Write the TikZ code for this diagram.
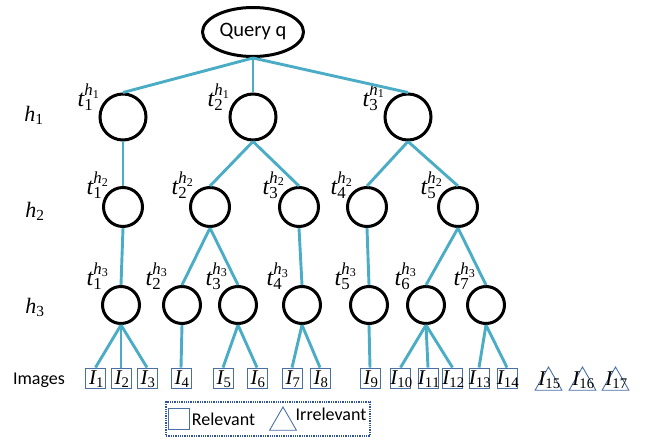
\documentclass[tikz,border=0pt]{standalone}
\usepackage{mathspec}
\setmainfont{Carlito}
\setmathsfont(Digits,Latin)[Scale=1]{Liberation Serif}
\usetikzlibrary{shapes.geometric}
\definecolor{linkblue}{HTML}{4BACC6}
\definecolor{boxblue}{HTML}{4A6FA5}
\definecolor{framblue}{HTML}{2F5597}
\begin{document}
\begin{tikzpicture}[x=1pt, y=-1pt,
  query/.style={ellipse, draw, line width=3pt, minimum width=101pt, minimum height=49pt, inner sep=0pt,
    font=\fontsize{20.5}{24}\selectfont},
  topic/.style={circle, draw, line width=3pt, inner sep=0pt, fill=white},
  lvla/.style={topic, minimum size=46pt},
  lvlb/.style={topic, minimum size=39pt},
  lvlc/.style={topic, minimum size=37pt},
  link/.style={draw=linkblue, line width=2.9pt},
  tlabel/.style={anchor=south east, inner sep=0pt, font=\fontsize{24}{26}\selectfont},
  hlabel/.style={inner sep=0pt, font=\fontsize{22}{24}\selectfont},
  imgtext/.style={font=\fontsize{21}{22}\selectfont},
  imgbox/.style={rectangle, draw=boxblue, line width=0.9pt, minimum width=20pt, minimum height=20pt, inner sep=0pt,
    label={[imgtext, inner sep=0pt, xshift=1pt, yshift=-1pt]center:#1}},
  imgtri/.style={regular polygon, regular polygon sides=3, draw=boxblue, line width=0.9pt, minimum size=31pt, inner sep=0pt,
    label={[imgtext, inner sep=0pt, xshift=1pt, yshift=2pt]center:#1}},
  legendframe/.style={rectangle, draw=framblue, line width=1.3pt, densely dotted, minimum width=204pt, minimum height=34pt, inner sep=0pt},
  legtext/.style={inner sep=0pt, font=\fontsize{18}{20}\selectfont}
]
\useasboundingbox (0,0) rectangle (645,441);

% query
\node[query] (q) at (253,32) {Query q};

% level h1
\node[lvla] (a1) at (123,117) {};
\node[lvla] (a2) at (253,117) {};
\node[lvla] (a3) at (408,117) {};
% level h2
\node[lvlb] (b1) at (123,207) {};
\node[lvlb] (b2) at (210,207) {};
\node[lvlb] (b3) at (299,207) {};
\node[lvlb] (b4) at (367,207) {};
\node[lvlb] (b5) at (458,207) {};
% level h3
\node[lvlc] (c1) at (121,305) {};
\node[lvlc] (c2) at (182,305) {};
\node[lvlc] (c3) at (238,305) {};
\node[lvlc] (c4) at (302,305) {};
\node[lvlc] (c5) at (369,305) {};
\node[lvlc] (c6) at (426,305) {};
\node[lvlc] (c7) at (486,305) {};

% topic labels
\node[tlabel] (la1) at ([shift={(-23,-6)}]a1.center) {$t_1^{h_1}$};
\node[tlabel] (la2) at ([shift={(-23,-6)}]a2.center) {$t_2^{h_1}$};
\node[tlabel] (la3) at ([shift={(-23,-6)}]a3.center) {$t_3^{h_1}$};
\node[tlabel] (lb1) at ([shift={(-14,-8)}]b1.center) {$t_1^{h_2}$};
\node[tlabel] (lb2) at ([shift={(-16,-8)}]b2.center) {$t_2^{h_2}$};
\node[tlabel] (lb3) at ([shift={(-14,-8)}]b3.center) {$t_3^{h_2}$};
\node[tlabel] (lb4) at ([shift={(-14,-8)}]b4.center) {$t_4^{h_2}$};
\node[tlabel] (lb5) at ([shift={(-15,-8)}]b5.center) {$t_5^{h_2}$};
\node[tlabel] (lc1) at ([shift={(-12,-15)}]c1.center) {$t_1^{h_3}$};
\node[tlabel] (lc2) at ([shift={(-14,-15)}]c2.center) {$t_2^{h_3}$};
\node[tlabel] (lc3) at ([shift={(-10,-15)}]c3.center) {$t_3^{h_3}$};
\node[tlabel] (lc4) at ([shift={(-13,-15)}]c4.center) {$t_4^{h_3}$};
\node[tlabel] (lc5) at ([shift={(-12,-15)}]c5.center) {$t_5^{h_3}$};
\node[tlabel] (lc6) at ([shift={(-9,-15)}]c6.center) {$t_6^{h_3}$};
\node[tlabel] (lc7) at ([shift={(-10,-15)}]c7.center) {$t_7^{h_3}$};

% level names
\node[hlabel] (h1) at (34,115) {$h_1$};
\node[hlabel] (h2) at (35,211) {$h_2$};
\node[hlabel] (h3) at (35,307) {$h_3$};
\node[legtext] (imgs) at (39,380) {Images};

% images: relevant
\node[imgbox=$I_{1}$]  (i1)  at (95.5,378) {};
\node[imgbox=$I_{2}$]  (i2)  at (121,378) {};
\node[imgbox=$I_{3}$]  (i3)  at (147,378) {};
\node[imgbox=$I_{4}$]  (i4)  at (181,378) {};
\node[imgbox=$I_{5}$]  (i5)  at (223,378) {};
\node[imgbox=$I_{6}$]  (i6)  at (257,378) {};
\node[imgbox=$I_{7}$]  (i7)  at (292,378) {};
\node[imgbox=$I_{8}$]  (i8)  at (320,378) {};
\node[imgbox=$I_{9}$]  (i9)  at (370,378) {};
\node[imgbox=$I_{10}$] (i10) at (400.5,378) {};
\node[imgbox=$I_{11}$] (i11) at (428,378) {};
\node[imgbox=$I_{12}$] (i12) at (452.5,378) {};
\node[imgbox=$I_{13}$] (i13) at (479,378) {};
\node[imgbox=$I_{14}$] (i14) at (507,378) {};
% images: irrelevant
\node[imgtri=$I_{15}$] (i15) at (548.5,382.5) {};
\node[imgtri=$I_{16}$] (i16) at (582.5,382.5) {};
\node[imgtri=$I_{17}$] (i17) at (615.5,382.5) {};

% connectors
\draw[link] (q.south) -- (a1.north);
\draw[link] (q.south) -- (a2.north);
\draw[link] (q.south) -- (a3.north);
\draw[link] (a1.south) -- (b1.north);
\draw[link] (a2.south) -- (b2.north);
\draw[link] (a2.south) -- (b3.north);
\draw[link] (a3.south) -- (b4.north);
\draw[link] (a3.south) -- (b5.north);
\draw[link] (b1.south) -- (c1.north);
\draw[link] (b2.south) -- (c2.north);
\draw[link] (b2.south) -- (c3.north);
\draw[link] (b3.south) -- (c4.north);
\draw[link] (b4.south) -- (c5.north);
\draw[link] (b5.south) -- (c6.north);
\draw[link] (b5.south) -- (c7.north);
\draw[link] (c1.south) -- (i1.north);
\draw[link] (c1.south) -- (i2.north);
\draw[link] (c1.south) -- (i3.north);
\draw[link] (c2.south) -- (i4.north);
\draw[link] (c3.south) -- (i5.north);
\draw[link] (c3.south) -- (i6.north);
\draw[link] (c4.south) -- (i7.north);
\draw[link] (c4.south) -- (i8.north);
\draw[link] (c5.south) -- (i9.north);
\draw[link] (c6.south) -- (i10.north);
\draw[link] (c6.south) -- (i11.north);
\draw[link] (c6.south) -- (i12.north);
\draw[link] (c7.south) -- (i13.north);
\draw[link] (c7.south) -- (i14.north);

% legend
\node[legendframe] (legend) at (268,419) {};
\node[rectangle, draw=boxblue, line width=0.9pt, minimum size=21pt, inner sep=0pt] (relsym) at (178.5,418.5) {};
\node[legtext] (reltext) at (223.5,419.5) {Relevant};
\node[regular polygon, regular polygon sides=3, draw=boxblue, line width=0.9pt, minimum size=31pt, inner sep=0pt] (irrsym) at (283,422.5) {};
\node[legtext] (irrtext) at (331,414.5) {Irrelevant};
\end{tikzpicture}
\end{document}
